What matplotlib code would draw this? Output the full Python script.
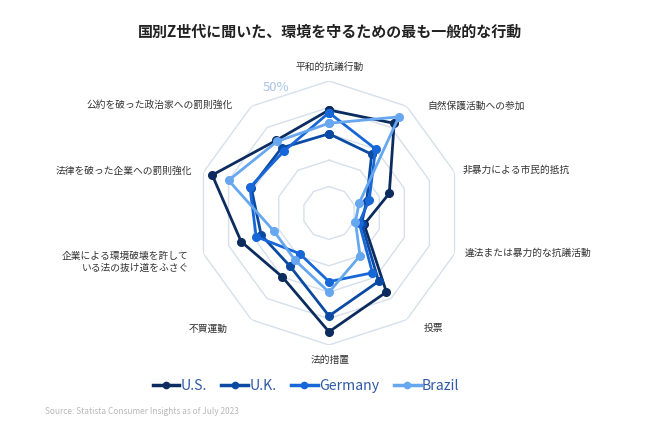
import numpy as np
import matplotlib
matplotlib.use("Agg")
import matplotlib.pyplot as plt
from matplotlib.lines import Line2D

plt.rcParams['font.family'] = ['Noto Sans CJK JP', 'DejaVu Sans']

categories = [
    "平和的抗議行動",
    "自然保護活動への参加",
    "非暴力による市民的抵抗",
    "違法または暴力的な抗議活動",
    "投票",
    "法的措置",
    "不買運動",
    "企業による環境破壊を許して\nいる法の抜け道をふさぐ",
    "法律を破った企業への罰則強化",
    "公約を破った政治家への罰則強化",
]
countries = ["U.S.", "U.K.", "Germany", "Brazil"]
us = [39, 42, 24, 14, 37, 45, 30, 35, 46.5, 34]
uk = [30, 27.5, 15, 13, 32, 39, 25, 27, 31, 30.5]
germany = [38, 30, 16, 12, 28, 26, 19, 29, 31.5, 29]
brazil = [34, 45, 12, 10.5, 20, 30, 22, 22, 40, 33.5]
ring_levels = [10, 20, 30, 40, 50]

series = [us, uk, germany, brazil]
colors = ["#0c2b5e", "#0b4aa2", "#1767d8", "#66a7ef"]

fig = plt.figure(figsize=(6.5, 4.25), dpi=100)
W, H = 650, 425
cx, cy, R = 329, 213, 132
ax = fig.add_axes([(cx - R) / W, (H - cy - R) / H, 2 * R / W, 2 * R / H], projection='polar')
ax.set_theta_zero_location('N')
ax.set_theta_direction(-1)
ax.set_ylim(0, 50)
ax.axis('off')

n = len(categories)
theta = np.arange(n) * 2 * np.pi / n
theta_c = np.append(theta, theta[0])

for lv in ring_levels:
    ax.plot(theta_c, [lv] * (n + 1), color="#d6e0eb", lw=1.0, zorder=1)

for name, vals, col in zip(countries, series, colors):
    v = np.append(vals, vals[0])
    ax.plot(theta_c, v, color=col, lw=2.0, marker='o', markersize=5.5,
            zorder=3, clip_on=False)

# category labels
label_cfg = [
    ('center', 1, 1),
    ('left', 13, -10),
    ('left', -4, -2),
    ('left', -2, 5),
    ('left', 9, 2),
    ('center', 1, -2),
    ('right', -16, 2),
    ('right', -2, -4),
    ('right', 1, -3),
    ('right', -11, -9),
]
for t, lab, (ha, dx, dy) in zip(theta, categories, label_cfg):
    ax.annotate(lab, xy=(t, 55), xytext=(dx, dy), textcoords='offset pixels',
                ha=ha, va='center', fontsize=7, color="#333333",
                multialignment='right', annotation_clip=False)

ax.text(np.deg2rad(337), 51.5, "50%", ha='center', va='center',
        fontsize=9.5, color="#a9c4e8")

fig.text(330 / W, 1 - 32 / H, "国別Z世代に聞いた、環境を守るための最も一般的な行動",
         ha='center', va='center', fontsize=10.8, fontweight='bold', color="#222222")

handles = [Line2D([0], [0], color=c, lw=2.5, marker='o', markersize=4.5)
           for c in colors]
leg = fig.legend(handles, countries, loc='center', ncol=4,
                 bbox_to_anchor=(306 / W, 1 - 386 / H), frameon=False,
                 fontsize=10.2, handlelength=1.9, handletextpad=0.1,
                 columnspacing=1.0)
for txt in leg.get_texts():
    txt.set_color("#2f5aa5")

fig.text(45 / W, 1 - 411 / H, "Source: Statista Consumer Insights as of July 2023",
         ha='left', va='center', fontsize=6, color="#b8b8b8")

fig.savefig("out.png", dpi=100)
